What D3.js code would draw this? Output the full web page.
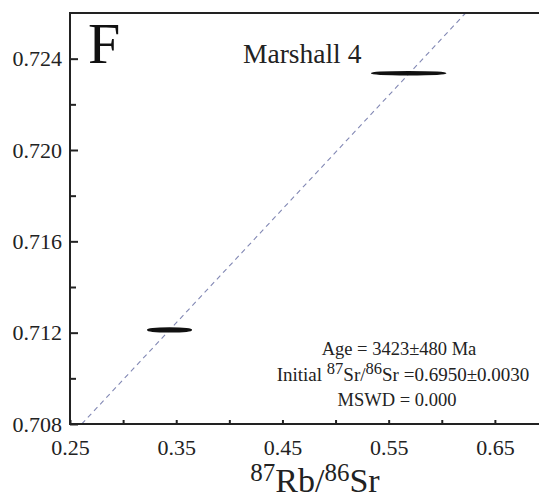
<!DOCTYPE html>
<html>
<head>
<meta charset="utf-8">
<script src="https://cdn.jsdelivr.net/npm/d3@7"></script>
<style>
  body { margin: 0; background: #fff; }
  svg { display: block; }
  svg text { font-family: 'Liberation Serif', 'Times New Roman', serif; }
</style>
</head>
<body>
<div id="chart"></div>
<script>
// sample analyses (2 sigma errors)
var rbSr = [0.3437, 0.5688]
var rbSrErr = [0.0213, 0.0356]
var srSr = [0.71212, 0.72336]
var srSrErr = [0.00008, 0.00006]

// isochron fit
var intercept = 0.6950
var slope = 0.0498

var xTicks = [0.25, 0.35, 0.45, 0.55, 0.65]
var xMinor = [0.30, 0.40, 0.50, 0.60]
var yTicks = [0.708, 0.712, 0.716, 0.720, 0.724]
var yMinor = [0.710, 0.714, 0.718, 0.722]

var resultLines = ['Age = 3423\u00b1480 Ma', null, 'MSWD = 0.000']

;(function () {
  var W = 539
  var H = 500
  var M = { left: 70, top: 13 }
  var PW = 478
  var PH = 411
  var INK = '#222'
  var SERIF = "'Liberation Serif', 'Times New Roman', serif"

  var svg = d3.select('#chart').append('svg')
    .attr('width', W)
    .attr('height', H)

  var x = d3.scaleLinear().domain([0.25, 0.70]).range([M.left, M.left + PW])
  var y = d3.scaleLinear().domain([0.708, 0.726]).range([M.top + PH, M.top])

  svg.append('clipPath').attr('id', 'plot')
    .append('rect')
    .attr('x', M.left).attr('y', M.top)
    .attr('width', PW).attr('height', PH)

  var plot = svg.append('g').attr('clip-path', 'url(#plot)')

  // isochron line
  var x0 = (0.708 - intercept) / slope
  var x1 = (0.726 - intercept) / slope
  plot.append('line')
    .attr('x1', x(x0)).attr('y1', y(intercept + slope * x0))
    .attr('x2', x(x1)).attr('y2', y(intercept + slope * x1))
    .attr('stroke', '#8288b4')
    .attr('stroke-width', 1.1)
    .attr('stroke-dasharray', '5,4')

  // error ellipses
  plot.selectAll('ellipse').data(rbSr).enter().append('ellipse')
    .attr('cx', function (d) { return x(d) })
    .attr('cy', function (d, i) { return y(srSr[i]) })
    .attr('rx', function (d, i) { return x(d + rbSrErr[i]) - x(d) - 0.8 })
    .attr('ry', function (d, i) { return y(srSr[i] - srSrErr[i]) - y(srSr[i]) })
    .attr('fill', '#111')
    .attr('stroke', '#111')
    .attr('stroke-width', 1.6)

  // frame
  svg.append('rect')
    .attr('x', M.left).attr('y', M.top)
    .attr('width', PW).attr('height', PH)
    .attr('fill', 'none')
    .attr('stroke', INK)
    .attr('stroke-width', 2)

  function styleAxis (g, size) {
    g.attr('font-family', null).attr('font-size', null)
    g.select('.domain').remove()
    g.selectAll('line').attr('stroke', INK).attr('stroke-width', 2)
    g.selectAll('text')
      .style('font-family', SERIF)
      .style('font-size', size + 'px')
      .attr('fill', INK)
  }

  // ticks (inward)
  var gy = svg.append('g').attr('transform', 'translate(' + M.left + ',0)')
    .call(d3.axisLeft(y).tickValues(yTicks).tickFormat(d3.format('.3f'))
      .tickSizeInner(-8).tickSizeOuter(0).tickPadding(16))
  styleAxis(gy, 22)
  gy.selectAll('text').attr('dx', 8)

  var gyMinor = svg.append('g').attr('transform', 'translate(' + M.left + ',0)')
    .call(d3.axisLeft(y).tickValues(yMinor).tickFormat('').tickSizeInner(-6).tickSizeOuter(0))
  styleAxis(gyMinor, 22)

  var gx = svg.append('g').attr('transform', 'translate(0,' + (M.top + PH) + ')')
    .call(d3.axisBottom(x).tickValues(xTicks).tickFormat(d3.format('.2f'))
      .tickSizeInner(-4).tickSizeOuter(0).tickPadding(15))
  styleAxis(gx, 22)

  var gxMinor = svg.append('g').attr('transform', 'translate(0,' + (M.top + PH) + ')')
    .call(d3.axisBottom(x).tickValues(xMinor).tickFormat('').tickSizeInner(-4).tickSizeOuter(0))
  styleAxis(gxMinor, 22)

  // panel letter and sample name
  svg.append('text').text('F')
    .attr('x', 88).attr('y', 63)
    .attr('font-size', 58).attr('fill', '#111')

  svg.append('text').text('Marshall 4')
    .attr('x', 243).attr('y', 63)
    .attr('font-size', 27.5).attr('fill', INK)

  // results block
  var cx = 399
  svg.append('text').text(resultLines[0])
    .attr('x', cx).attr('y', 355).attr('text-anchor', 'middle')
    .attr('font-size', 18.5).attr('fill', INK)

  var init = svg.append('text')
    .attr('x', cx + 4).attr('y', 381).attr('text-anchor', 'middle')
    .attr('font-size', 19).attr('fill', INK)
  init.append('tspan').text('Initial ')
  init.append('tspan').text('87').attr('dy', -7).attr('font-size', 16.5)
  init.append('tspan').text('Sr/').attr('dy', 7)
  init.append('tspan').text('86').attr('dy', -7).attr('font-size', 16.5)
  init.append('tspan').text('Sr =0.6950\u00b10.0030').attr('dy', 7)

  svg.append('text').text(resultLines[2])
    .attr('x', cx - 2).attr('y', 406).attr('text-anchor', 'middle')
    .attr('font-size', 18.5).attr('fill', INK)

  // x axis title
  var xt = svg.append('text')
    .attr('x', 315).attr('y', 492).attr('text-anchor', 'middle')
    .attr('font-size', 34).attr('fill', INK)
  xt.append('tspan').text('87').attr('dy', -11).attr('font-size', 25)
  xt.append('tspan').text('Rb/').attr('dy', 11)
  xt.append('tspan').text('86').attr('dy', -11).attr('font-size', 25)
  xt.append('tspan').text('Sr').attr('dy', 11)
})()
</script>
</body>
</html>
